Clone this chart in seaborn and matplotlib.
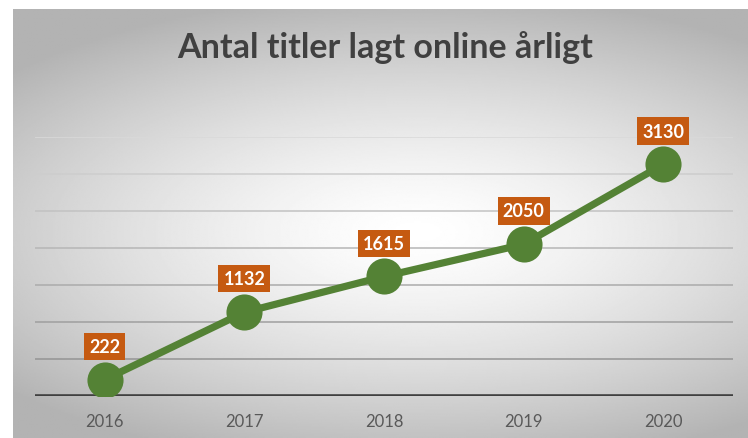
import numpy as np
import pandas as pd
import seaborn as sns
import matplotlib.pyplot as plt

# data
years = ["2016", "2017", "2018", "2019", "2020"]
titles = [222, 1132, 1615, 2050, 3130]
grid_levels = [500, 1000, 1500, 2000, 2500, 3000, 3500]

df = pd.DataFrame({"year": years, "titles": titles})

sns.set_style("white")
plt.rcParams["font.family"] = ["Lato", "DejaVu Sans"]

fig = plt.figure(figsize=(7.48, 4.39), dpi=100)

# radial grey-to-white background like the Excel chart area
bg = fig.add_axes([13 / 748, 0, 735 / 748, 429 / 439])
yy, xx = np.mgrid[0:1:300j, 0:1:500j]
r = np.sqrt(((xx - 0.55) / 1.0) ** 2 + ((yy - 0.52) / 0.75) ** 2)
shade = 1.0 - 0.30 * np.clip(r / 0.75, 0, 1) ** 1.4
bg.imshow(shade, cmap="gray", vmin=0, vmax=1, extent=[0, 1, 0, 1],
          aspect="auto", interpolation="bilinear")
bg.set_axis_off()

ax = fig.add_axes([35 / 748, 42 / 439, 698 / 748, 259 / 439])
ax.patch.set_alpha(0)

# gridlines get darker towards the bottom
for i, lvl in enumerate(grid_levels):
    g = 0.58 + 0.27 * i / (len(grid_levels) - 1)
    ax.axhline(lvl, color=(g, g, g), lw=1.1, zorder=1)

sns.lineplot(data=df, x="year", y="titles", ax=ax, color="#548235",
             lw=5.2, marker="o", markersize=26, markeredgewidth=0,
             zorder=3, sort=False)

for i, v in enumerate(df["titles"]):
    ax.annotate(f"{v}", (i, v), xytext=(0, 24), textcoords="offset points",
                ha="center", va="center", color="white", fontsize=13,
                fontweight="bold", zorder=5,
                bbox=dict(boxstyle="square,pad=0.28", fc="#C55A11", ec="none"))

ax.axhline(0, color="#404040", lw=2.6, zorder=2)
ax.set_xlim(-0.5, 4.5)
ax.set_ylim(0, 3500)
ax.set_yticks([])
ax.set_xlabel("")
ax.set_ylabel("")
ax.tick_params(axis="x", length=0, pad=12, labelsize=12, labelcolor="#595959")
for s in ax.spines.values():
    s.set_visible(False)

fig.text(385 / 748, 1 - 48 / 439, "Antal titler lagt online årligt",
         ha="center", va="center", fontsize=24.5, fontweight="bold",
         color="#404040")

fig.savefig("out.png", dpi=100)
